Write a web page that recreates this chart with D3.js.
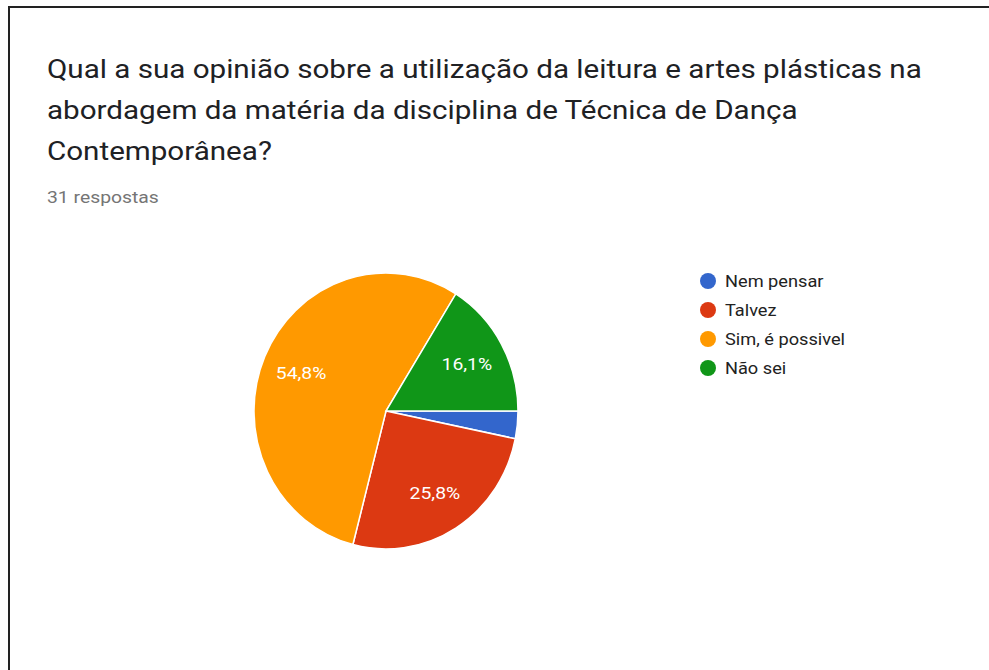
<!DOCTYPE html>
<html>
<head>
<meta charset="utf-8">
<script src="https://cdn.jsdelivr.net/npm/d3@7"></script>
<style>
  body { margin: 0; background: #fff; }
  svg text { font-family: Roboto, "Noto Sans", sans-serif; }
</style>
</head>
<body>
<svg id="chart" width="989" height="670"></svg>
<script>
// Chart data
const categories = ['Nem pensar', 'Talvez', 'Sim, é possivel', 'Não sei'];
const counts = [1, 8, 17, 5];
const colors = ['#3366cc', '#dc3912', '#ff9900', '#109618'];
const titleLines = [
    'Qual a sua opinião sobre a utilização da leitura e artes plásticas na',
    'abordagem da matéria da disciplina de Técnica de Dança',
    'Contemporânea?'
];
const subtitle = '31 respostas';

// the screenshot is a bit stretched: text wider, pie taller
const textStretch = 1.138;
const pieStretch = 1.045;

const svg = d3.select('#chart');

// Frame (only left and top edges are visible in the screenshot)
svg.append('path')
    .attr('d', 'M9,670 V7 H989')
    .attr('fill', 'none')
    .attr('stroke', '#222')
    .attr('stroke-width', 2);

// Title
svg.append('g').selectAll('text')
    .data(titleLines)
    .enter()
    .append('text')
    .attr('transform', (d, i) => `translate(47,${78 + i * 41}) scale(${textStretch},1)`)
    .attr('font-size', 26)
    .attr('fill', '#202124')
    .text(d => d);

svg.append('text')
    .attr('transform', `translate(47,203) scale(${textStretch},1)`)
    .attr('font-size', 17)
    .attr('fill', '#757575')
    .text(subtitle);

// Pie
const cx = 386, cy = 411, radius = 132;
const total = d3.sum(counts);

const pie = d3.pie()
    .sort(null)
    .startAngle(Math.PI / 2)
    .endAngle(Math.PI / 2 + 2 * Math.PI)
    .value(d => d);

const arc = d3.arc().innerRadius(0).outerRadius(radius);
const labelArc = d3.arc().innerRadius(radius * 0.7).outerRadius(radius * 0.7);

const arcs = pie(counts);

svg.append('g')
    .attr('transform', `translate(${cx},${cy}) scale(1,${pieStretch})`)
    .selectAll('path')
    .data(arcs)
    .enter()
    .append('path')
    .attr('d', arc)
    .attr('fill', (d, i) => colors[i])
    .attr('stroke', '#fff')
    .attr('stroke-width', 1.5)
    .attr('vector-effect', 'non-scaling-stroke');

svg.append('g')
    .selectAll('text')
    .data(arcs.filter(d => d.value / total > 0.05))
    .enter()
    .append('text')
    .attr('transform', d => {
        const [x, y] = labelArc.centroid(d);
        return `translate(${cx + x},${cy + y * pieStretch}) scale(${textStretch},1)`;
    })
    .attr('text-anchor', 'middle')
    .attr('dominant-baseline', 'central')
    .attr('font-size', 17)
    .attr('fill', '#fff')
    .text(d => (d.value / total * 100).toFixed(1).replace('.', ',') + '%');

// Legend
const legend = svg.append('g').attr('transform', 'translate(708,281)');
const item = legend.selectAll('g')
    .data(categories)
    .enter()
    .append('g')
    .attr('transform', (d, i) => `translate(0,${i * 29})`);

item.append('circle')
    .attr('r', 8)
    .attr('fill', (d, i) => colors[i]);

item.append('text')
    .attr('transform', `translate(17,0) scale(${textStretch},1)`)
    .attr('dominant-baseline', 'central')
    .attr('font-size', 16)
    .attr('fill', '#222')
    .text(d => d);
</script>
</body>
</html>
